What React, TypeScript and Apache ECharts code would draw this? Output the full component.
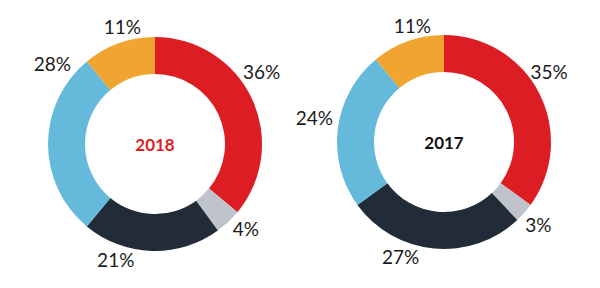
import React, { useEffect, useRef } from "react";
import * as echarts from "echarts";

const categories = ["Red", "Grey", "Navy", "Blue", "Orange"];
const values2018 = [36, 4, 21, 28, 11];
const values2017 = [35, 3, 27, 24, 11];
const colors = ["#dc1e24", "#bfc3cb", "#222c38", "#65badb", "#f0a530"];
const years = ["2018", "2017"];

// label nudges (styling only) to match the reference's hand-placed labels
const labelNudge2018: [number, number][] = [[-21, -24], [-6, 1], [-12, 1], [36, -81], [30, -9]];
const labelNudge2017: [number, number][] = [[-21, -18], [-10, 6], [-9, 0], [8, -10], [31, -8]];

export default function App() {
  const ref = useRef<HTMLDivElement>(null);
  useEffect(() => {
    document.body.style.margin = "0";
    const chart = echarts.init(ref.current!, null, { renderer: "svg" });
    const mkSeries = (vals: number[], center: [number, number], nudge: [number, number][]) => ({
      type: "pie",
      center,
      radius: [70, 107],
      startAngle: 90,
      clockwise: true,
      avoidLabelOverlap: false,
      label: {
        show: true,
        position: "outside",
        formatter: "{c}%",
        fontFamily: "Lato",
        fontSize: 19,
        color: "#1a1a1a",
      },
      labelLine: { show: false, length: 8, length2: 0 },
      itemStyle: { borderWidth: 0 },
      data: vals.map((v, i) => ({
        name: categories[i],
        value: v,
        itemStyle: { color: colors[i] },
        label: { offset: nudge[i] },
      })),
    });
    chart.setOption({
      animation: false,
      series: [
        mkSeries(values2018, [155, 144], labelNudge2018),
        mkSeries(values2017, [444, 142], labelNudge2017),
      ],
      graphic: [
        {
          type: "text",
          x: 155,
          y: 144,
          style: {
            text: years[0],
            fill: "#dc1e24",
            font: "bold 17px Lato",
            textAlign: "center",
            textVerticalAlign: "middle",
          },
        },
        {
          type: "text",
          x: 444,
          y: 142,
          style: {
            text: years[1],
            fill: "#111",
            font: "bold 17px Lato",
            textAlign: "center",
            textVerticalAlign: "middle",
          },
        },
      ],
    });
    return () => chart.dispose();
  }, []);
  return <div ref={ref} style={{ width: 600, height: 288 }} />;
}
